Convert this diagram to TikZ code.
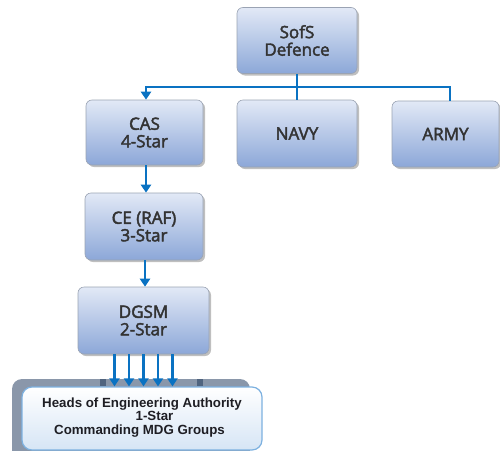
\documentclass[tikz,border=0pt]{standalone}
\usepackage{fontspec}
\setmainfont{Open Sans}[FakeBold=2.5]
\newfontfamily\arialb{Liberation Sans}
\usetikzlibrary{arrows.meta,shadows}
\definecolor{linkblue}{HTML}{0A72C2}
\definecolor{boxtop}{HTML}{E2E9F6}
\definecolor{boxbot}{HTML}{8CA7D8}
\definecolor{boxedge}{HTML}{9AA3B3}
\definecolor{txt}{HTML}{333333}
\definecolor{backgray}{HTML}{8A97AA}
\definecolor{backdark}{HTML}{50647F}
\definecolor{frontedge}{HTML}{7DB1E0}
\definecolor{frontbot}{HTML}{D6E5F5}
\definecolor{fronttxt}{HTML}{1E1E24}
\tikzset{
  orgbox/.style={draw=boxedge, line width=0.6pt, rounded corners=6pt,
    top color=boxtop, bottom color=boxbot, text=txt,
    font=\fontsize{17}{17.5}\selectfont, align=center, inner sep=0pt,
    drop shadow={shadow xshift=2pt, shadow yshift=-2pt, opacity=0.25, fill=black}},
  blueline/.style={draw=linkblue, line width=2.8pt},
  bluearrow/.style={blueline, -{Triangle[length=8pt,width=10pt]}},
  frontbox/.style={draw=frontedge, line width=1.2pt, rounded corners=10pt,
    top color=white, bottom color=frontbot, inner sep=0pt},
  fronttext/.style={text=fronttxt, font=\arialb\bfseries\fontsize{13.3}{13.5}\selectfont,
    inner sep=0pt, anchor=base}
}
\begin{document}
\begin{tikzpicture}[x=1pt,y=-1pt]
\useasboundingbox (0,0) rectangle (500,450);
% boxes
\node[orgbox, minimum width=120pt, minimum height=66pt] (sofs) at (297,40.5) {SofS\\Defence};
\node[orgbox, minimum width=117pt, minimum height=65pt] (cas) at (144.5,132.5) {CAS\\4-Star};
\node[orgbox, minimum width=120pt, minimum height=67pt] (navy) at (297,133.5) {NAVY};
\node[orgbox, minimum width=107pt, minimum height=66pt] (army) at (445.5,134) {ARMY};
\node[orgbox, minimum width=118pt, minimum height=67pt] (ce) at (144,226.5) {CE (RAF)\\3-Star};
\node[orgbox, minimum width=131pt, minimum height=67pt] (dgsm) at (143.5,320.5) {DGSM\\2-Star};
% bottom box with back layer
\fill[backgray, rounded corners=10pt] (12,379) rectangle (250,460);
\fill[backdark] (100,379) rectangle (106,386);
\fill[backdark] (197,379) rectangle (203,386);
\node[frontbox, minimum width=240pt, minimum height=63pt] (heads) at (142,418.5) {};
\node[fronttext] (t1) at (142,407) {Heads of Engineering Authority};
\node[fronttext] (t2) at (154.5,420.5) {1-Star};
\node[fronttext] (t3) at (139.5,434) {Commanding MDG Groups};
% connectors
\coordinate (bus) at (297,87);
\draw[blueline] (sofs.south) -- (navy.north);
\draw[bluearrow] ([xshift=4.5pt]army.north) |- (bus) -| ([xshift=1.5pt]cas.north);
\draw[bluearrow] ([xshift=1.5pt]cas.south) -- ([xshift=1.5pt]cas.south |- ce.north);
\draw[bluearrow] ([xshift=1pt]ce.south) -- ([xshift=1pt]ce.south |- dgsm.north);
\foreach \dx in {-29,-14.5,0,14.5,29}{
  \draw[bluearrow] ([xshift=\dx pt]dgsm.south) -- ([xshift=\dx pt]dgsm.south |- heads.north);
}
\end{tikzpicture}
\end{document}
